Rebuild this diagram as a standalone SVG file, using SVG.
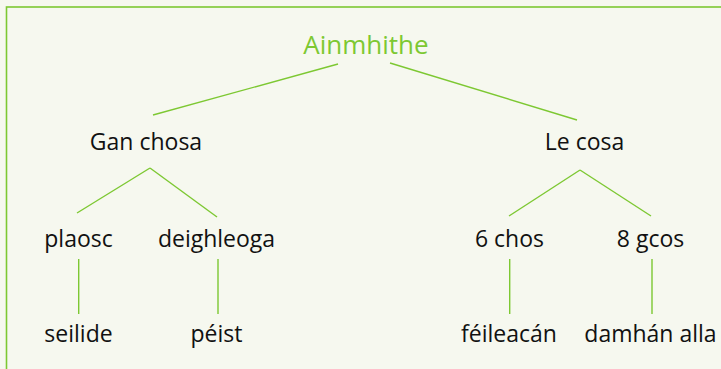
<svg xmlns="http://www.w3.org/2000/svg" width="721" height="369" viewBox="0 0 721 369">
<style>
.bg{fill:#f6f8ef}
.frame{fill:none;stroke:#7dc832;stroke-width:1.6}
.edge{stroke:#7dc832;stroke-width:1.4;fill:none}
.lbl{font-family:"Open Sans","Noto Sans",sans-serif;font-size:23px;fill:#111111;text-anchor:middle}
.root{font-family:"Open Sans","Noto Sans",sans-serif;font-size:26px;fill:#7dc832;text-anchor:middle}
</style>
<rect class="bg" x="0" y="0" width="721" height="369"/>
<rect class="frame" x="6.5" y="7" width="730" height="380"/>
<g id="connectors">
<line class="edge" x1="338" y1="64" x2="153" y2="115"/>
<line class="edge" x1="390" y1="63" x2="577" y2="120"/>
<line class="edge" x1="150" y1="168" x2="77" y2="213"/>
<line class="edge" x1="150" y1="168" x2="217" y2="217"/>
<line class="edge" x1="580" y1="170" x2="509" y2="216"/>
<line class="edge" x1="580" y1="170" x2="651" y2="216"/>
<line class="edge" x1="78.7" y1="259" x2="78.7" y2="314"/>
<line class="edge" x1="218" y1="259" x2="218" y2="314"/>
<line class="edge" x1="509.7" y1="259" x2="509.7" y2="314"/>
<line class="edge" x1="652" y1="259" x2="652" y2="314"/>
</g>
<g id="n-ainmhithe"><text class="root" x="366" y="54">Ainmhithe</text></g>
<g id="n-gan-chosa"><text class="lbl" x="146" y="150">Gan chosa</text></g>
<g id="n-le-cosa"><text class="lbl" x="584.5" y="150">Le cosa</text></g>
<g id="n-plaosc"><text class="lbl" x="78.5" y="247">plaosc</text></g>
<g id="n-deighleoga"><text class="lbl" x="216.5" y="247">deighleoga</text></g>
<g id="n-6-chos"><text class="lbl" x="509.5" y="247">6 chos</text></g>
<g id="n-8-gcos"><text class="lbl" x="650.5" y="247">8 gcos</text></g>
<g id="n-seilide"><text class="lbl" x="78.5" y="341.5">seilide</text></g>
<g id="n-peist"><text class="lbl" x="216.5" y="341.5">péist</text></g>
<g id="n-feileacan"><text class="lbl" x="509" y="341.5">féileacán</text></g>
<g id="n-damhan-alla"><text class="lbl" x="650.5" y="341.5">damhán alla</text></g>
</svg>
